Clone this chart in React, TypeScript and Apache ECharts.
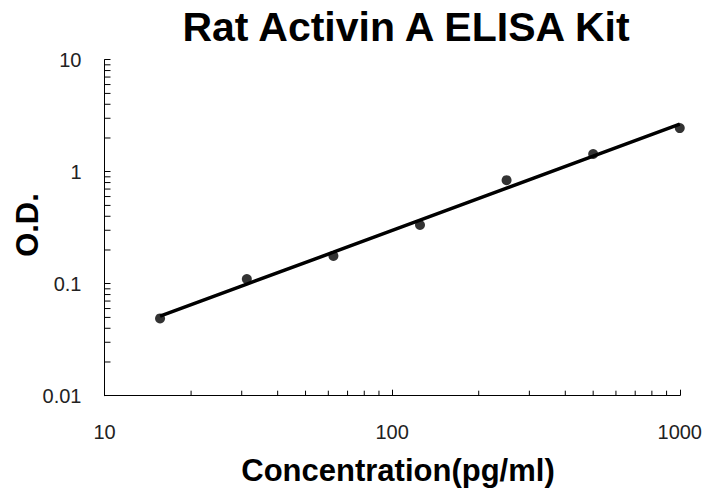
import React, { useEffect, useRef } from "react";
import * as echarts from "echarts";

const concentrations = [15.6, 31.25, 62.5, 125, 250, 500, 1000];
const odValues = [0.049, 0.11, 0.177, 0.334, 0.84, 1.44, 2.45];
const fitX = [15.6, 31.25, 62.5, 125, 250, 500, 1000];
const fitY = [0.0514, 0.0993, 0.191, 0.37, 0.714, 1.378, 2.66];
const xMinorTicks = [20, 30, 40, 50, 60, 70, 80, 90, 200, 300, 400, 500, 600, 700, 800, 900];
const yMinorTicks = [0.02, 0.03, 0.04, 0.05, 0.06, 0.07, 0.08, 0.09, 0.2, 0.3, 0.4, 0.5, 0.6, 0.7, 0.8, 0.9, 2, 3, 4, 5, 6, 7, 8, 9];
const xTickLabels = ["10", "100", "1000"];
const yTickLabels = ["0.01", "0.1", "1", "10"];
const xMin = 10, xMax = 1000, yMin = 0.01, yMax = 10;

const FONT = "'Liberation Sans', Arial, sans-serif";

const pickLabel = (labels: string[], v: number) => {
  const idx = labels.findIndex((s) => Math.abs(parseFloat(s) - v) / parseFloat(s) < 1e-6);
  return idx >= 0 ? labels[idx] : "";
};

export default function App() {
  const ref = useRef<HTMLDivElement>(null);
  useEffect(() => {
    if (!ref.current) return;
    const chart = echarts.init(ref.current, undefined, { renderer: "svg" });
    chart.setOption({
      animation: false,
      backgroundColor: "#fff",
      grid: { left: 104.5, right: 23.3, top: 59.7, bottom: 92.3 },
      title: {
        text: "Rat Activin A ELISA Kit",
        left: 401,
        textAlign: "center",
        top: 1,
        textStyle: { fontFamily: FONT, fontWeight: "bold", fontSize: 41, color: "#000" },
      },
      graphic: [
        {
          type: "text",
          x: 398,
          y: 470,
          style: { text: "Concentration(pg/ml)", font: `bold 31px ${FONT}`, fill: "#000", textAlign: "center", textVerticalAlign: "middle" },
        },
        {
          type: "text",
          x: 27,
          y: 225,
          rotation: Math.PI / 2,
          style: { text: "O.D.", font: `bold 31px ${FONT}`, fill: "#000", textAlign: "center", textVerticalAlign: "middle" },
        },
      ],
      xAxis: {
        type: "log",
        logBase: 10,
        min: xMin,
        max: xMax,
        axisLine: { lineStyle: { color: "#000", width: 1 } },
        axisTick: { inside: true, length: 6, lineStyle: { color: "#000" } },
        axisLabel: { margin: 26, fontFamily: FONT, fontSize: 20, color: "#222", formatter: (v: number) => pickLabel(xTickLabels, v) },
        splitLine: { show: false },
      },
      yAxis: {
        type: "log",
        logBase: 10,
        min: yMin,
        max: yMax,
        axisLine: { lineStyle: { color: "#000", width: 1 } },
        axisTick: { inside: true, length: 6, lineStyle: { color: "#000" } },
        axisLabel: { margin: 23, fontFamily: FONT, fontSize: 20, color: "#222", formatter: (v: number) => pickLabel(yTickLabels, v) },
        splitLine: { show: false },
      },
      series: [
        {
          type: "custom",
          silent: true,
          clip: false,
          data: xMinorTicks.map((v) => [v, yMin]),
          renderItem: (params: any, api: any) => {
            const p = api.coord([api.value(0), yMin]);
            return { type: "line", shape: { x1: p[0], y1: p[1], x2: p[0], y2: p[1] - 5 }, style: { stroke: "#000", lineWidth: 1 } };
          },
        },
        {
          type: "custom",
          silent: true,
          clip: false,
          data: yMinorTicks.map((v) => [xMin, v]),
          renderItem: (params: any, api: any) => {
            const p = api.coord([xMin, api.value(1)]);
            return { type: "line", shape: { x1: p[0], y1: p[1], x2: p[0] + 6, y2: p[1] }, style: { stroke: "#000", lineWidth: 1 } };
          },
        },
        {
          type: "line",
          data: fitX.map((x, i) => [x, fitY[i]]),
          showSymbol: false,
          symbol: "none",
          lineStyle: { color: "#000", width: 3.5 },
          z: 3,
        },
        {
          type: "scatter",
          data: concentrations.map((x, i) => [x, odValues[i]]),
          symbol: "circle",
          symbolSize: 10,
          itemStyle: { color: "#000" },
          z: 4,
        },
      ],
    });
    return () => chart.dispose();
  }, []);
  return <div ref={ref} style={{ width: 705, height: 488, position: "absolute", left: 0, top: 0 }} />;
}
